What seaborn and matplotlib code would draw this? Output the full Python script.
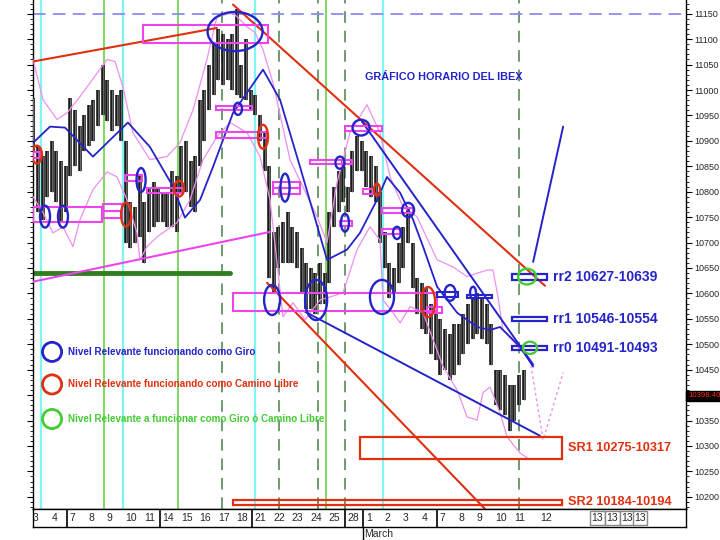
import numpy as np
import pandas as pd
import matplotlib
matplotlib.use("Agg")
import matplotlib.pyplot as plt
from matplotlib.patches import Ellipse, Rectangle
import seaborn as sns

# trading days shown on the bottom strip (Feb 3 .. Mar 12)
day_labels = ["3", "4", "7", "8", "9", "10", "11", "14", "15", "16", "17", "18",
              "21", "22", "23", "24", "25", "28", "1", "2", "3", "4", "7", "8",
              "9", "10", "11", "12"]
week_starts = [2, 7, 12, 17, 18, 22]
future_labels = ["13", "13", "13", "13"]
future_pos = [30.3, 31.1, 31.9, 32.6]

# price bars, 4 per day (high / low)
bar_hi = [10985, 10890, 10870, 10880, 10900, 10880, 10860, 10850, 10985, 10960,
          10930, 10950, 10970, 10980, 11000, 11050, 11020, 11000, 10990, 11000,
          10900, 10780, 10770, 10830, 10780, 10810, 10820, 10810, 10800, 10800,
          10840, 10830, 10890, 10900, 10860, 10870, 10980, 11000, 11050, 11090,
          11120, 11110, 11100, 11110, 11160, 11050, 11100, 11000, 10990, 10950,
          10920, 10850, 10720, 10730, 10740, 10760, 10730, 10720, 10690, 10660,
          10650, 10640, 10660, 10640, 10760, 10810, 10840, 10860, 10810, 10880,
          10910, 10900, 10880, 10870, 10850, 10800, 10720, 10660, 10650, 10700,
          10730, 10770, 10700, 10630, 10620, 10610, 10580, 10560, 10550, 10530,
          10520, 10540, 10540, 10560, 10580, 10590, 10600, 10590, 10580, 10540,
          10450, 10450, 10440, 10420, 10420, 10440, 10450]
bar_lo = [10880, 10760, 10745, 10790, 10800, 10780, 10740, 10760, 10830, 10850,
          10840, 10880, 10890, 10900, 10930, 10950, 10940, 10920, 10930, 10900,
          10700, 10690, 10700, 10710, 10660, 10720, 10730, 10740, 10740, 10730,
          10730, 10720, 10800, 10800, 10770, 10760, 10850, 10900, 10960, 10990,
          11020, 11010, 11020, 11000, 10990, 10985, 10980, 10960, 10950, 10900,
          10840, 10630, 10600, 10650, 10660, 10660, 10660, 10650, 10600, 10570,
          10570, 10560, 10580, 10580, 10620, 10730, 10760, 10780, 10760, 10800,
          10840, 10840, 10810, 10790, 10780, 10700, 10650, 10590, 10600, 10620,
          10650, 10700, 10610, 10560, 10530, 10520, 10480, 10470, 10440, 10450,
          10430, 10440, 10460, 10480, 10500, 10510, 10520, 10510, 10500, 10460,
          10380, 10370, 10360, 10330, 10350, 10380, 10390]
last_price = 10398.40

# moving average and bands (day index, price)
ma_x = [0.11, 1.03, 1.84, 3.35, 5.24, 6.43, 7.68, 8.32, 9.14, 9.84, 10.92, 12.54,
        13.46, 14.54, 16.0, 17.08, 17.78, 18.70, 19.24, 19.95, 20.65, 21.19, 21.95,
        23.03, 24.11, 24.81, 25.35, 26.43, 27.14]
ma_y = [10896, 10928, 10926, 10869, 10936, 10888, 10810, 10749, 10784, 10849, 10955,
        11040, 10981, 10849, 10666, 10686, 10719, 10784, 10829, 10798, 10745, 10692,
        10613, 10562, 10534, 10528, 10534, 10495, 10456]
up_x = [0.11, 0.65, 1.41, 1.95, 2.65, 3.19, 4.11, 4.54, 4.97, 5.51, 6.43, 7.35, 8.05,
        8.76, 9.51, 10.05, 10.92, 11.68, 12.11, 12.54, 13.08, 14.0, 15.46, 16.0, 16.54,
        17.24, 18.16, 18.86, 19.41, 20.11, 20.86, 21.95, 22.81, 23.57, 24.65, 24.97,
        25.24, 25.51, 26.97]
up_y = [11060, 10981, 10942, 10955, 10987, 11014, 11060, 11056, 11006, 10916, 10863,
        10869, 10896, 10961, 11060, 11144, 11152, 11124, 11113, 11079, 11014, 10863,
        10751, 10700, 10818, 10916, 10971, 10916, 10829, 10770, 10751, 10666, 10652,
        10633, 10646, 10646, 10593, 10528, 10469]
lo_x = [0.11, 0.65, 1.19, 1.73, 2.27, 2.65, 3.35, 4.11, 4.65, 5.19, 5.73, 5.89, 6.27,
        6.81, 7.89, 8.59, 9.30, 10.05, 10.76, 11.68, 12.38, 12.92, 13.62, 14.16, 14.81,
        15.62, 16.86, 17.62, 18.32, 18.86, 19.03, 19.57, 19.95, 20.49, 21.19, 22.27,
        23.03, 23.57, 24.11, 24.43, 24.81, 25.35, 25.73, 26.43, 26.97]
lo_y = [10790, 10759, 10719, 10731, 10692, 10745, 10804, 10839, 10829, 10784, 10719,
        10666, 10692, 10711, 10739, 10784, 10863, 10908, 10936, 10916, 10869, 10784,
        10554, 10582, 10548, 10587, 10601, 10686, 10731, 10705, 10587, 10562, 10542,
        10574, 10562, 10456, 10410, 10357, 10351, 10405, 10416, 10365, 10318, 10286,
        10273]
proj_x = [26.97, 27.68, 28.76]
proj_y = [10469, 10312, 10444]

# vertical session markers (day index)
cyan_days = [0.55, 4.97, 12.1, 19.03]
green_days = [3.95, 7.95, 15.95]
green_dash_days = [10.32, 13.4, 15.5, 16.97, 26.38]

# trend lines: (x0, y0, x1, y1)
red_lines = [(0.11, 11056, 10.05, 11122), (10.92, 11168, 27.78, 10615),
             (12.76, 10621, 24.54, 10176)]
blue_lines = [(17.89, 10938, 27.14, 10460), (14.81, 10564, 27.51, 10320),
              (27.14, 10662, 28.76, 10928)]
pink_line = (0.11, 10623, 12.92, 10721)
green_level = (0.11, 10.76, 10641)

# circled levels: (x, y, w, h)
blue_marks = [(0.76, 10751, 0.54, 43), (1.73, 10751, 0.54, 43), (11.03, 11115, 2.97, 77),
              (11.19, 10963, 0.43, 24), (5.95, 10823, 0.49, 47), (13.73, 10808, 0.49, 55),
              (16.70, 10857, 0.49, 24), (17.84, 10926, 0.92, 31), (20.38, 10764, 0.65, 28),
              (19.78, 10719, 0.43, 24), (16.97, 10739, 0.43, 35), (13.03, 10587, 0.86, 59),
              (15.41, 10587, 1.19, 79), (18.97, 10593, 1.30, 67), (22.65, 10601, 0.59, 31),
              (23.89, 10601, 0.32, 24)]
red_marks = [(0.32, 10873, 0.54, 35), (5.14, 10755, 0.54, 47), (8.0, 10806, 0.54, 31),
             (12.54, 10908, 0.54, 47), (18.70, 10804, 0.32, 24), (21.46, 10583, 0.76, 59)]
green_marks = [(26.81, 10633, 0.97, 31), (26.97, 10493, 0.76, 24)]

# level boxes: (x0, x1, low, high)
pink_boxes = [(6.05, 12.81, 11093, 11128), (0.11, 3.84, 10741, 10770),
              (3.89, 4.92, 10762, 10776), (3.89, 4.92, 10749, 10762),
              (5.08, 6.0, 10822, 10833), (6.27, 8.22, 10798, 10808),
              (10.0, 11.95, 10961, 10969), (10.0, 12.76, 10906, 10918),
              (13.08, 14.54, 10796, 10808), (13.08, 14.54, 10808, 10820),
              (0.11, 0.49, 10867, 10879), (15.08, 17.35, 10855, 10863),
              (16.97, 18.97, 10920, 10930), (17.95, 18.49, 10796, 10806),
              (18.97, 20.65, 10759, 10768), (18.97, 19.95, 10717, 10727),
              (16.70, 17.35, 10733, 10743), (10.92, 21.95, 10566, 10601),
              (21.41, 22.22, 10562, 10574)]
blue_boxes = [(21.95, 23.08, 10593, 10603), (23.57, 24.92, 10591, 10597)]
rr_names = ["rr2", "rr1", "rr0"]
rr_low = [10627, 10546, 10491]
rr_high = [10639, 10554, 10493]
sr_names = ["SR1", "SR2"]
sr_low = [10275, 10184]
sr_high = [10317, 10194]

legend_text = ["Nivel Relevante funcionando como Giro",
               "Nivel Relevante funcionando como Camino Libre",
               "Nivel Relevante a funcionar como Giro ó Camino Libre"]

BLUE = "#2424c8"
RED = "#e03010"
GREEN = "#44cc33"
PINK = "#ee44ee"
BAND = "#ee90ee"

sns.set_style("white")
plt.rcParams['font.family'] = ['Liberation Sans Narrow', 'Liberation Sans', 'DejaVu Sans']

fig = plt.figure(figsize=(7.2, 5.4), dpi=100)
ax = fig.add_axes([33 / 720, 31 / 540, 653 / 720, 509 / 540])
ax.set_xlim(0.11, 35.4)
ax.set_ylim(10176, 11177)

for d in cyan_days:
    ax.axvline(d, color="#7ff5f5", lw=1.6, zorder=1)
for d in green_days:
    ax.axvline(d, color="#7fd860", lw=1.4, zorder=1)
for d in green_dash_days:
    ax.axvline(d, color="#6f9a6f", lw=1.4, dashes=(6, 4), zorder=1)
ax.axhline(11150, color="#8c8cf0", lw=1.3, dashes=(7, 4), zorder=1)

ax.plot([green_level[0], green_level[1]], [green_level[2]] * 2, color="#2f7f1f", lw=3.5, zorder=2)

# price bars
bar_x = 0.125 + 0.25 * np.arange(len(bar_hi))
ax.vlines(bar_x, bar_lo, bar_hi, color="#1a1a1a", lw=2.6, zorder=3)
ax.vlines(bar_x, bar_lo, bar_hi, color="#777777", lw=0.6, zorder=3)

bands = pd.DataFrame({"x": up_x, "y": up_y})
sns.lineplot(data=bands, x="x", y="y", ax=ax, color=BAND, lw=0.9, sort=False, zorder=4)
sns.lineplot(x=lo_x, y=lo_y, ax=ax, color=BAND, lw=0.9, sort=False, zorder=4)
sns.lineplot(x=proj_x, y=proj_y, ax=ax, color=BAND, lw=1.0, sort=False, zorder=4,
             linestyle=(0, (2, 2)))
sns.lineplot(x=ma_x, y=ma_y, ax=ax, color=BLUE, lw=1.3, sort=False, zorder=5)

for x0, y0, x1, y1 in red_lines:
    ax.plot([x0, x1], [y0, y1], color=RED, lw=1.5, zorder=6)
for x0, y0, x1, y1 in blue_lines:
    ax.plot([x0, x1], [y0, y1], color=BLUE, lw=1.4, zorder=6)
ax.plot([pink_line[0], pink_line[2]], [pink_line[1], pink_line[3]], color=PINK, lw=1.5, zorder=6)

for x0, x1, lo, hi in pink_boxes:
    ax.add_patch(Rectangle((x0, lo), x1 - x0, hi - lo, fill=False, ec=PINK, lw=1.5, zorder=7))
for x0, x1, lo, hi in blue_boxes:
    ax.add_patch(Rectangle((x0, lo), x1 - x0, hi - lo, fill=False, ec=BLUE, lw=1.5, zorder=7))

for name, lo, hi in zip(rr_names, rr_low, rr_high):
    pad = max(0, 8 - (hi - lo)) / 2
    ax.add_patch(Rectangle((26.0, lo - pad), 1.89, hi - lo + 2 * pad, fill=False,
                           ec=BLUE, lw=1.6, zorder=7))
    ax.text(28.2, (lo + hi) / 2, f"{name} {lo}-{hi}", color=BLUE, fontsize=10,
            fontweight="bold", va="center", ha="left", zorder=9)
for name, lo, hi in zip(sr_names, sr_low, sr_high):
    x0 = 17.78 if name == "SR1" else 10.92
    ax.add_patch(Rectangle((x0, lo), 28.7 - x0, hi - lo, fill=False, ec=RED, lw=1.6, zorder=7))
    ax.text(29.0, (lo + hi) / 2, f"{name} {lo}-{hi}", color=RED, fontsize=9.2,
            fontweight="bold", va="center", ha="left", zorder=9)

for marks, col in [(blue_marks, BLUE), (red_marks, RED), (green_marks, GREEN)]:
    for x, y, w, h in marks:
        ax.add_patch(Ellipse((x, y), w, h, fill=False, ec=col, lw=1.7, zorder=8))

ax.text(22.3, 11026, "GRÁFICO HORARIO DEL IBEX", color=BLUE, fontsize=7.8,
        fontweight="bold", ha="center", va="center", zorder=9)

for txt, col, y in zip(legend_text, [BLUE, RED, GREEN], [10485, 10421, 10353]):
    ax.scatter([1.14], [y], s=190, facecolors="none", edgecolors=col, linewidths=2, zorder=9)
    ax.text(2.0, y, txt, color=col, fontsize=7.1, fontweight="bold", va="center", ha="left", zorder=9)

# axes styling
ax.set_xticks([])
yt = np.arange(10200, 11151, 50)
ax.set_yticks(yt)
# the 10400 label is covered by the last-price tag
ax.set_yticklabels(["" if v == 10400 else str(v) for v in yt])
ax.set_yticks(np.arange(10180, 11171, 10), minor=True)
ax.yaxis.tick_right()
ax.tick_params(axis="y", which="both", left=True, right=True, labelleft=False,
               labelright=True, direction="out", labelsize=6.5, pad=2, color="black")
ax.tick_params(axis="y", which="major", length=4)
ax.tick_params(axis="y", which="minor", length=2)
for side in ["left", "right", "bottom"]:
    ax.spines[side].set_color("black")
    ax.spines[side].set_linewidth(1.0)
ax.spines["top"].set_visible(False)
ax.set_xlabel("")
ax.set_ylabel("")

ax.text(1.003, last_price, f"{last_price:.2f}", transform=ax.get_yaxis_transform(),
        color="#ff3010", fontsize=5.6, va="center", ha="left",
        bbox=dict(boxstyle="square,pad=0.2", fc="black", ec="black"))

# bottom date strip
strip = fig.add_axes([33 / 720, 13 / 540, 653 / 720, 18 / 540])
strip.set_xlim(ax.get_xlim())
strip.set_ylim(0, 1)
strip.set_xticks([])
strip.set_yticks([])
for side in ["top", "bottom", "left", "right"]:
    strip.spines[side].set_color("black")
    strip.spines[side].set_linewidth(1.0)
for i, lab in enumerate(day_labels):
    xpos = i + 0.1 if i < len(day_labels) - 1 else i + 0.5
    strip.text(xpos, 0.5, lab, fontsize=7.5, va="center", ha="left", clip_on=True)
for w in week_starts:
    strip.axvline(w - 0.05, color="black", lw=1.2)
for lab, xpos in zip(future_labels, future_pos):
    strip.text(xpos, 0.5, lab, fontsize=7.5, va="center", ha="left",
               bbox=dict(boxstyle="square,pad=0.15", fc="white", ec="#888888", lw=1))

fig.text(364 / 720, 6 / 540, "March", fontsize=7.5, ha="left", va="center")
fig.add_artist(plt.Line2D([363 / 720, 363 / 720], [0, 13 / 540], color="black", lw=1))

fig.savefig("out.png", dpi=100)
